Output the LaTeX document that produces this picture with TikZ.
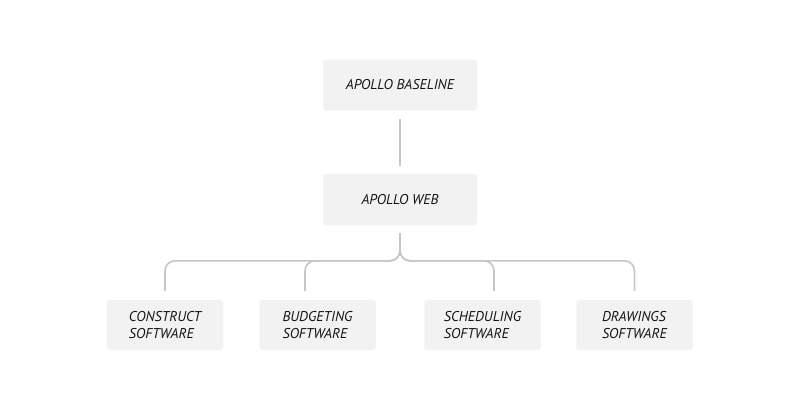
\documentclass[tikz,border=0pt]{standalone}
\usepackage{fontspec}
\setmainfont{PT Sans}
\usepackage{tikz}
\usetikzlibrary{positioning,calc}
\definecolor{boxfill}{HTML}{F2F2F2}
\definecolor{linkgray}{HTML}{C6C6C6}
\definecolor{inkdark}{HTML}{141414}
\tikzstyle{unit} = [rectangle, rounded corners=3pt, fill=boxfill, text=inkdark, font=\fontsize{14.2}{17}\selectfont\itshape, inner sep=0pt]
\tikzstyle{topunit} = [unit, minimum width=154pt, minimum height=51pt]
\tikzstyle{subunit} = [unit, minimum width=116.5pt, minimum height=50pt, align=left]
\tikzstyle{link} = [draw=linkgray, line width=1.6pt, rounded corners=10pt, shorten <=8pt, shorten >=9pt]

\begin{document}
\begin{tikzpicture}[x=1pt, y=-1pt]
        \useasboundingbox (0,0) rectangle (800,410);
        \node[topunit] (baseline) at (400,85) {APOLLO BASELINE};
        \node[topunit] (web) at (400,199.5) {APOLLO WEB};
        \node[subunit] (construct) at (165,325) {CONSTRUCT\\SOFTWARE};
        \node[subunit] (budgeting) at (317.5,325) {BUDGETING\\SOFTWARE};
        \node[subunit] (scheduling) at (482.5,325) {SCHEDULING\\SOFTWARE};
        \node[subunit] (drawings) at (634.5,325) {DRAWINGS\\SOFTWARE};
        \draw[link, shorten >=8pt] (baseline) -- (web);
        % each branch leaves web on its own path
        \draw[link] (web.south) |- ([yshift=39pt]construct.north) -- (construct.north);
        \draw[link] (web.south) |- ([xshift=-12.5pt, yshift=39pt]budgeting.north) -- ([xshift=-12.5pt]budgeting.north);
        \draw[link] (web.south) |- ([xshift=11.5pt, yshift=39pt]scheduling.north) -- ([xshift=11.5pt]scheduling.north);
        \draw[link] (web.south) |- ([yshift=39pt]drawings.north) -- (drawings.north);
\end{tikzpicture}
\end{document}
